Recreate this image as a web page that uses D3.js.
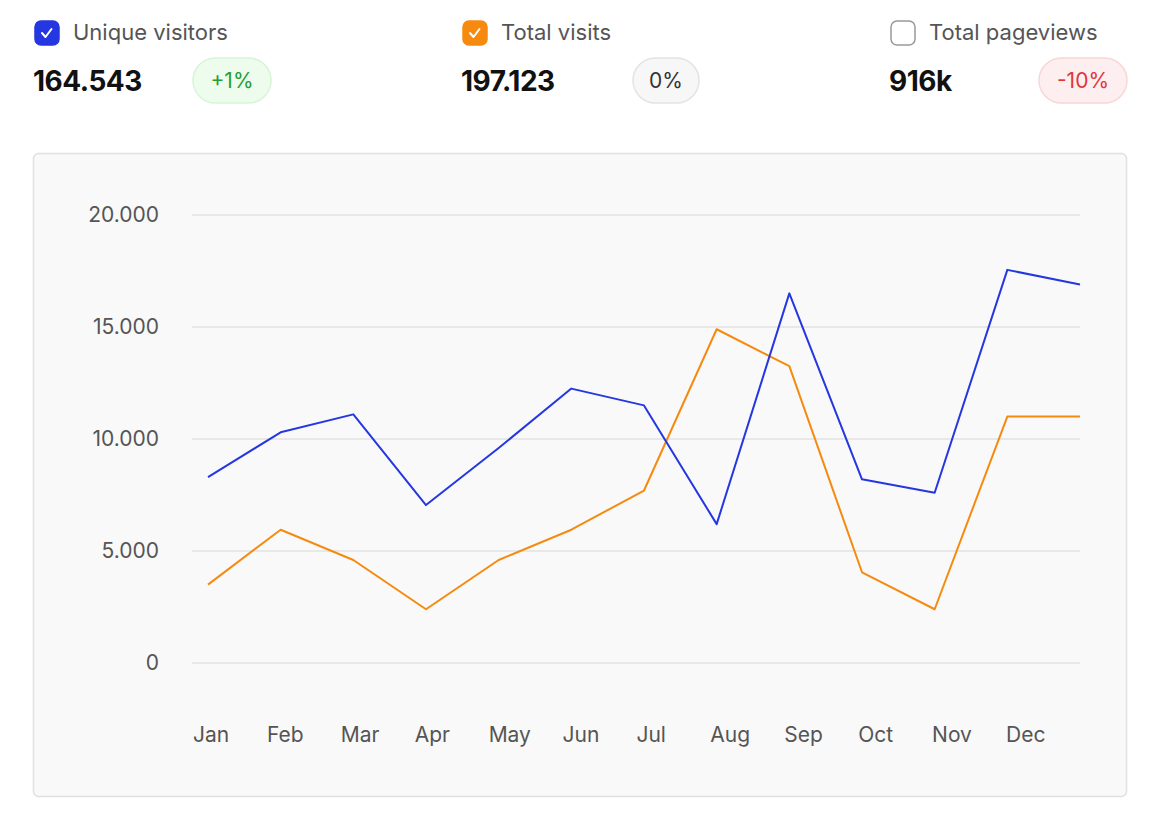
<!DOCTYPE html>
<html><head><meta charset="utf-8">
<script src="https://cdn.jsdelivr.net/npm/d3@7"></script>
<style>body{margin:0;background:#fff;font-family:Inter,sans-serif}</style>
</head><body><svg id="c" width="1160" height="830"></svg>
<script>
const months=["Jan","Feb","Mar","Apr","May","Jun","Jul","Aug","Sep","Oct","Nov","Dec"];
const pointIdx=[0,1,2,3,4,5,6,7,8,9,10,11,12];
const uniqueVisitors=[8300,10300,11100,7050,9600,12250,11500,6200,16500,8200,7600,17550,16900];
const totalVisits=[3500,5950,4600,2400,4600,5950,7700,14900,13250,4050,2400,11000,11000];
const yTicks=[0,5000,10000,15000,20000];
const yTickLabels=["0","5.000","10.000","15.000","20.000"];
const stats=[
 {label:"Unique visitors",value:"164.543",delta:"+1%",checked:true,color:"#2537e0",bg:"#eefcee",bd:"#d6f5d6",tc:"#22a033"},
 {label:"Total visits",value:"197.123",delta:"0%",checked:true,color:"#f68a0f",bg:"#f7f7f7",bd:"#e3e3e3",tc:"#333"},
 {label:"Total pageviews",value:"916k",delta:"-10%",checked:false,color:"#fff",bg:"#fdefef",bd:"#f8d6d6",tc:"#e0383a"}];
const svg=d3.select("#c");
const hx=[34,462,890];
stats.forEach((s,i)=>{
 const g=svg.append("g").attr("transform",`translate(${hx[i]},0)`);
 g.append("rect").attr("x",1).attr("y",21).attr("width",24).attr("height",24).attr("rx",6)
  .attr("fill",s.checked?s.color:"#fff").attr("stroke",s.checked?s.color:"#999").attr("stroke-width",1.5);
 if(s.checked) g.append("path").attr("d","M8 33 l3.5 4 l6 -8").attr("fill","none").attr("stroke","#fff").attr("stroke-width",2).attr("stroke-linecap","round").attr("stroke-linejoin","round");
 g.append("text").attr("x",39).attr("y",40).attr("font-size",22).attr("fill","#555").text(s.label);
 g.append("text").attr("x",-1).attr("y",91).attr("font-size",28).attr("font-weight",700).attr("fill","#111").attr("letter-spacing",-0.5).text(s.value);
 const w=s.delta.length>3?88:(s.delta.length>2?78:66);
 const bx=i==0?159:(i==1?171:149);
 g.append("rect").attr("x",bx).attr("y",58).attr("width",w).attr("height",45).attr("rx",22.5).attr("fill",s.bg).attr("stroke",s.bd).attr("stroke-width",1.5);
 g.append("text").attr("x",bx+w/2).attr("y",88).attr("text-anchor","middle").attr("font-size",21).attr("fill",s.tc).text(s.delta);
});
svg.append("rect").attr("x",33.5).attr("y",153.5).attr("width",1093).attr("height",643).attr("rx",5).attr("fill","#f9f9f9").attr("stroke","#e0e0e0").attr("stroke-width",1.5);
const x=d3.scaleLinear().domain([0,12]).range([208,1080]);
const xl=d3.scaleLinear().domain([0,11]).range([193,1006]);
const y=d3.scaleLinear().domain([0,20000]).range([663,215]);
const yAxis=d3.axisLeft(y).tickValues(yTicks).tickFormat((d,i)=>yTickLabels[i]).tickSize(0).tickPadding(0);
const ga=svg.append("g").attr("transform","translate(159,0)").call(yAxis);
ga.select(".domain").remove();
ga.selectAll("text").attr("font-size",21).attr("fill","#555").attr("font-family","Inter,sans-serif");
svg.append("g").selectAll("line").data(yTicks).join("line").attr("x1",192).attr("x2",1080)
 .attr("y1",d=>y(d)).attr("y2",d=>y(d)).attr("stroke","#e2e2e2").attr("stroke-width",1.5);
svg.append("g").selectAll("text").data(months).join("text").attr("x",(d,i)=>xl(i)).attr("y",742)
 .attr("font-size",21).attr("fill","#555").text(d=>d);
const line=d3.line().x((d,i)=>x(pointIdx[i])).y(d=>y(d));
svg.append("path").datum(totalVisits).attr("d",line).attr("fill","none").attr("stroke","#f68a0f").attr("stroke-width",2).attr("stroke-linejoin","round");
svg.append("path").datum(uniqueVisitors).attr("d",line).attr("fill","none").attr("stroke","#2537e0").attr("stroke-width",2).attr("stroke-linejoin","round");
</script></body></html>
